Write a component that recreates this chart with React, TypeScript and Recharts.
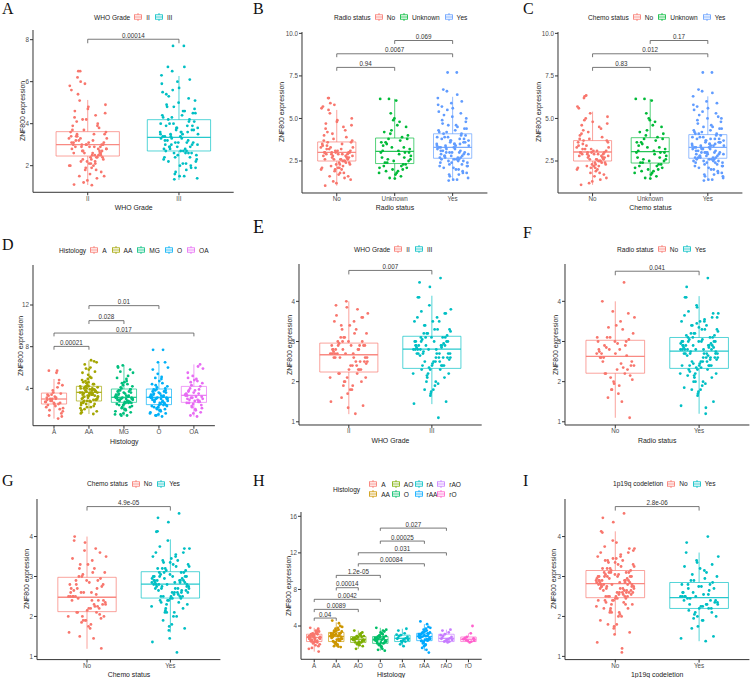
import React from 'react';
import { ComposedChart, XAxis, YAxis, Scatter, ReferenceArea, ReferenceLine } from 'recharts';

// ---------- colours (ggplot hue palettes) ----------
const hue2 = ['#F8766D', '#00BFC4'];
const hue3 = ['#F8766D', '#00BA38', '#619CFF'];
const hue5 = ['#F8766D', '#A3A500', '#00BF7D', '#00B0F6', '#E76BF3'];
const hue8 = ['#F8766D', '#CD9600', '#7CAE00', '#00BE67', '#00BFC4', '#00A9FF', '#C77CFF', '#FF61CC'];

// ---------- Panel A : WHO Grade (cohort 1) ----------
const catsA = ['II', 'III'];
const gradeII_A = [3.1, 2.4, 4.2, 2.8, 1.9, 3.5, 2.6, 3.0, 5.6, 2.2, 3.3, 1.5, 2.9, 4.6, 2.5, 3.7, 2.0, 3.2, 6.5, 2.7, 1.3, 3.9, 2.4, 3.0, 4.9, 2.1, 3.4, 2.6, 1.8, 3.6, 2.9, 5.1, 2.3, 3.1, 1.1, 4.0, 2.7, 3.3, 2.5, 6.2, 1.7, 3.0, 2.8, 4.4, 2.2, 3.5, 1.6, 2.9, 3.8, 2.6, 5.8, 2.0, 3.2, 2.4, 4.7, 3.0, 1.4, 2.7, 3.6, 2.3, 4.1, 2.9, 1.9, 3.4, 2.5, 6.5, 3.1, 2.1, 4.3, 2.8, 1.2, 3.3, 2.6, 5.4, 3.0, 2.2, 3.7, 1.8, 2.9, 4.5, 2.4, 3.2, 2.7, 5.9, 2.0, 3.5, 1.5, 3.0, 4.8, 2.6, 3.9, 2.3, 2.8, 1.07, 3.4, 2.5, 4.2, 3.1, 2.1, 6.0];
const gradeIII_A = [3.4, 2.6, 4.8, 3.0, 2.1, 4.2, 3.7, 2.9, 5.5, 1.8, 3.3, 4.5, 2.7, 3.9, 6.1, 2.4, 3.5, 1.5, 4.0, 3.1, 5.0, 2.8, 3.6, 7.7, 2.3, 4.4, 3.2, 1.9, 3.8, 5.9, 2.6, 3.4, 4.7, 2.0, 3.0, 4.1, 1.35, 3.5, 2.7, 5.3, 3.9, 2.5, 4.3, 3.1, 6.5, 2.2, 3.6, 4.9, 2.9, 1.7, 3.3, 4.6, 2.8, 3.7, 5.7, 2.4, 3.2, 4.0, 1.4, 3.5, 6.7, 2.6, 3.8, 4.4, 2.1, 3.0, 5.1, 3.4, 2.7, 4.2, 1.6, 3.6, 7.7, 2.9, 4.5, 3.1, 2.3, 3.9, 5.6, 2.5, 3.3, 4.8, 2.0, 3.7, 6.3, 2.8, 3.5, 4.1, 1.5, 3.2, 5.2, 2.6, 3.8, 4.6, 2.2, 3.0, 6.0, 3.4, 2.7, 4.3, 1.9, 3.6, 5.4, 2.4, 3.1, 4.0, 6.7, 2.9];
const boxII_A = [1.08, 2.46, 3.0, 3.62, 5.13];
const boxIII_A = [1.32, 2.7, 3.35, 4.19, 6.27];
const ticksA = [2, 4, 6, 8];

// ---------- Panel B : Radio status (cohort 1) ----------
const catsB = ['No', 'Unknown', 'Yes'];
const radioNo_B = [3.0, 2.5, 4.1, 2.8, 1.8, 3.6, 2.6, 3.1, 5.7, 2.2, 3.3, 1.4, 2.9, 4.7, 2.4, 3.8, 2.0, 3.2, 6.2, 2.7, 1.2, 4.0, 2.5, 3.0, 5.0, 2.1, 3.4, 2.7, 1.9, 3.5, 2.9, 5.3, 2.3, 3.1, 1.05, 4.3, 2.8, 3.3, 2.6, 6.2, 1.6, 3.0, 2.8, 4.5, 2.2, 3.6, 1.7, 2.9, 3.9, 2.6, 5.6, 2.0, 3.2, 2.4, 4.8, 3.0, 1.5, 2.7, 3.7, 2.3, 4.2, 2.9, 2.0, 3.4, 2.5, 5.9, 3.1, 2.1, 4.4, 2.8, 1.3, 3.3, 2.6, 5.5, 3.0, 2.3, 3.7, 1.8, 2.9, 4.6, 2.4, 3.2, 2.7, 5.8, 2.1, 3.5, 1.6, 3.0, 4.9, 2.6];
const radioUnknown_B = [3.1, 2.0, 4.1, 2.6, 1.9, 3.6, 2.3, 4.9, 3.0, 1.6, 3.8, 2.5, 6.05, 2.2, 3.3, 4.3, 1.8, 2.9, 3.5, 2.1, 5.0, 2.7, 3.9, 1.5, 3.2, 4.6, 2.4, 3.0, 2.0, 6.15, 3.7, 2.6, 4.0, 1.7, 3.4, 2.3, 5.3, 2.8, 3.1, 1.9, 4.5, 2.5, 3.6, 2.2, 6.15, 3.0, 1.8, 4.2, 2.7, 3.3, 2.1, 4.8, 2.4, 3.8, 1.47];
const radioYes_B = [3.3, 2.7, 4.6, 2.9, 2.0, 4.1, 3.6, 2.8, 5.4, 1.7, 3.2, 4.4, 2.6, 3.8, 6.0, 2.3, 3.4, 1.4, 3.9, 3.0, 5.1, 2.7, 3.5, 7.7, 2.2, 4.3, 3.1, 1.8, 3.7, 5.8, 2.5, 3.3, 4.8, 2.1, 2.9, 4.0, 1.35, 3.4, 2.6, 5.2, 3.8, 2.4, 4.2, 3.0, 6.6, 2.2, 3.5, 4.9, 2.8, 1.6, 3.2, 4.5, 2.7, 3.6, 5.6, 2.4, 3.1, 3.9, 1.5, 3.4, 6.7, 2.5, 3.7, 4.3, 2.0, 3.0, 5.0, 3.3, 2.6, 4.1, 1.7, 3.5, 7.7, 2.8, 4.4, 3.0, 2.2, 3.8, 5.5, 2.4, 3.2, 4.7, 1.9, 3.6, 6.2, 2.7, 3.4, 4.0, 1.4, 3.1, 5.3, 2.5, 3.7, 4.6, 2.1, 2.9, 5.9, 3.3, 2.6, 4.2, 1.8, 3.5, 5.7, 2.3, 3.0, 3.9, 6.4, 2.8];
const boxNo_B = [1.05, 2.5, 3.01, 3.62, 5.5];
const boxUnknown_B = [1.47, 2.35, 3.07, 3.85, 6.15];
const boxYes_B = [1.4, 2.66, 3.3, 4.1, 6.27];
const ticksBC = [2.5, 5, 7.5, 10];

// ---------- Panel C : Chemo status (cohort 1) ----------
const catsC = ['No', 'Unknown', 'Yes'];
const chemoNo_C = [3.0, 2.5, 4.2, 2.8, 1.9, 3.7, 2.6, 3.2, 5.6, 2.2, 3.4, 1.5, 2.9, 4.6, 2.4, 3.8, 2.0, 3.1, 6.3, 2.7, 1.3, 4.0, 2.5, 3.0, 5.1, 2.1, 3.5, 2.7, 1.8, 3.6, 2.9, 5.0, 2.3, 3.1, 1.1, 4.4, 2.8, 3.3, 2.6, 6.2, 1.7, 3.0, 2.8, 4.5, 2.2, 3.7, 1.6, 2.9, 3.9, 2.6, 5.7, 2.0, 3.2, 2.4, 4.8, 3.0, 1.4, 2.7, 3.6, 2.3, 4.3, 2.9, 2.1, 3.4, 2.5, 6.35, 3.1, 2.2, 4.1, 2.8, 1.2, 3.3, 2.6, 4.9, 3.0, 2.3, 3.8, 1.8, 2.9, 4.7, 2.4, 3.2, 2.7, 5.3, 2.1];
const chemoUnknown_C = [3.1, 2.0, 4.0, 2.6, 1.9, 3.6, 2.3, 5.0, 3.0, 1.6, 3.8, 2.5, 6.05, 2.2, 3.3, 4.3, 1.8, 2.9, 3.5, 2.1, 4.9, 2.7, 3.9, 1.5, 3.2, 4.6, 2.4, 3.0, 2.0, 6.15, 3.7, 2.6, 4.1, 1.7, 3.4, 2.3, 5.3, 2.8, 3.1, 1.9, 4.5, 2.5, 3.6, 2.2, 6.15, 3.0, 1.8, 4.2, 2.7, 3.3, 2.1, 4.8, 2.4, 3.8, 1.47];
const chemoYes_C = [3.3, 2.7, 4.5, 2.9, 2.0, 4.1, 3.6, 2.8, 5.5, 1.7, 3.2, 4.4, 2.6, 3.8, 5.9, 2.3, 3.4, 1.4, 3.9, 3.0, 5.0, 2.7, 3.5, 7.7, 2.2, 4.3, 3.1, 1.8, 3.7, 5.8, 2.5, 3.3, 4.8, 2.1, 2.9, 4.0, 1.35, 3.4, 2.6, 5.2, 3.8, 2.4, 4.2, 3.0, 6.6, 2.2, 3.5, 4.9, 2.8, 1.6, 3.2, 4.5, 2.7, 3.6, 5.6, 2.4, 3.1, 3.9, 1.5, 3.4, 6.7, 2.5, 3.7, 4.3, 2.0, 3.0, 5.0, 3.3, 2.6, 4.1, 1.7, 3.5, 7.7, 2.8, 4.4, 3.0, 2.2, 3.8, 5.4, 2.4, 3.2, 4.7, 1.9, 3.6, 6.3, 2.7, 3.4, 4.0, 1.4, 3.1, 5.3, 2.5, 3.7, 4.6, 2.1, 2.9, 6.0, 3.3, 2.6, 4.2, 1.8, 3.5, 5.7, 2.3, 3.0, 3.9, 6.5, 2.8, 3.6, 2.9, 4.1, 2.4, 3.2, 1.6, 3.8, 2.7, 5.1, 3.0, 2.5, 3.4];
const boxNo_C = [1.1, 2.5, 3.03, 3.7, 5.4];
const boxUnknown_C = [1.5, 2.38, 3.05, 3.87, 6.15];
const boxYes_C = [1.38, 2.66, 3.3, 4.05, 6.3];

// ---------- Panel D : Histology (cohort 1) ----------
const catsD = ['A', 'AA', 'MG', 'O', 'OA'];
const histA_D = [2.9, 2.5, 3.4, 1.8, 3.0, 5.7, 2.6, 3.6, 2.2, 4.1, 2.8, 1.3, 3.2, 2.4, 4.8, 3.0, 2.7, 5.5, 1.9, 3.5, 2.6, 3.1, 1.1, 2.9, 4.3, 2.3, 3.3, 2.0, 3.8, 2.7, 5.7, 3.0, 1.6, 2.5, 3.4, 4.5, 2.8, 2.1, 3.1, 1.4];
const histAA_D = [3.6, 2.9, 4.5, 3.2, 2.2, 4.0, 3.8, 5.3, 2.6, 3.5, 4.7, 1.8, 3.9, 3.1, 6.6, 2.8, 4.2, 3.4, 2.0, 3.7, 5.8, 3.0, 4.4, 2.5, 3.6, 6.0, 2.7, 3.3, 4.9, 1.6, 3.8, 4.1, 2.9, 3.5, 5.5, 2.3, 4.0, 3.2, 6.7, 2.8, 3.7, 4.6, 1.9, 3.4, 4.2, 3.0, 5.1, 2.6, 3.9, 4.3, 2.1, 3.6, 6.3, 2.9, 3.3, 4.8, 1.54, 3.7, 4.1, 2.7, 3.5, 5.6, 3.1, 2.4, 4.0, 3.8, 6.5, 2.8, 3.4, 4.4, 2.2, 3.6, 5.0, 3.2, 2.9, 4.2, 1.7, 3.9, 5.9, 3.0, 3.6, 4.6, 2.5, 3.3, 4.0];
const histMG_D = [3.1, 2.6, 4.0, 2.9, 1.9, 3.5, 5.8, 2.4, 3.3, 4.4, 1.5, 3.0, 2.7, 6.1, 3.7, 2.2, 3.2, 4.9, 2.8, 1.7, 3.6, 2.5, 5.2, 3.0, 4.2, 2.0, 3.4, 2.7, 6.2, 3.1, 1.4, 3.8, 2.6, 4.6, 2.9, 3.3, 2.1, 5.5, 3.0, 2.4, 3.9, 1.6, 3.2, 2.8, 4.1, 2.3, 3.5, 6.0, 2.7, 3.1, 1.8, 4.7, 2.9, 3.6, 2.5, 5.0, 3.2, 1.38, 3.0, 2.6, 3.8, 2.2, 4.3, 3.4, 2.8, 5.6, 3.1, 2.0, 3.7, 2.7, 4.5, 1.5, 3.3, 2.9, 3.9];
const histO_D = [3.1, 2.4, 3.9, 2.8, 1.8, 3.5, 6.5, 2.2, 3.3, 4.5, 1.4, 3.0, 2.6, 5.8, 3.7, 2.0, 3.2, 4.9, 2.7, 1.6, 3.6, 2.3, 7.7, 3.0, 4.2, 1.9, 3.4, 2.5, 5.4, 3.1, 1.3, 3.8, 2.4, 4.7, 2.9, 3.3, 2.1, 6.0, 3.0, 2.2, 4.0, 1.5, 3.2, 2.8, 4.3, 2.3, 3.5, 7.7, 2.6, 3.1, 1.7, 5.1, 2.9, 3.6, 2.4, 4.4, 3.2, 1.4, 3.0, 2.5, 3.9, 2.0, 6.5, 3.4, 2.7, 5.0, 3.1, 1.9, 3.7, 2.6, 4.1, 1.6, 3.3, 2.8, 3.8];
const histOA_D = [3.3, 2.7, 4.3, 3.0, 1.9, 3.8, 6.3, 2.5, 3.5, 4.7, 1.4, 3.2, 2.8, 5.5, 3.9, 2.2, 3.4, 4.9, 2.9, 1.7, 3.6, 2.6, 6.1, 3.1, 4.5, 2.0, 3.7, 2.7, 5.2, 3.3, 1.3, 4.0, 2.4, 4.8, 3.0, 3.5, 2.3, 5.9, 3.2, 2.6, 4.2, 1.6, 3.4, 2.9, 4.6, 2.1, 3.8, 5.0, 2.8, 3.1];
const boxA_D = [1.1, 2.5, 2.98, 3.55, 4.9];
const boxAA_D = [1.54, 2.79, 3.62, 4.2, 6.66];
const boxMG_D = [1.38, 2.66, 3.14, 3.94, 6.25];
const boxO_D = [1.3, 2.44, 3.14, 3.94, 6.4];
const boxOA_D = [1.3, 2.66, 3.33, 4.19, 6.3];
const ticksD = [4, 8, 12];

// ---------- Panel E : WHO Grade (cohort 2) ----------
const catsE = ['II', 'III'];
const gradeII_E = [2.7, 2.3, 3.1, 2.5, 1.9, 2.9, 3.6, 2.1, 2.8, 3.3, 1.6, 2.6, 2.4, 3.9, 2.9, 2.0, 2.7, 3.5, 2.2, 1.4, 3.0, 2.6, 3.8, 2.8, 3.2, 1.8, 2.7, 2.3, 4.0, 2.9, 1.2, 3.1, 2.5, 3.4, 2.6, 2.8, 2.0, 3.7, 2.7, 2.2, 3.0, 1.7, 2.8, 2.4, 3.3, 2.1, 2.9, 3.65, 2.5, 2.7, 1.5, 3.2, 2.6, 2.9, 2.3, 3.5, 2.8, 1.9, 2.6, 2.4, 3.0, 2.0, 3.85, 2.7, 2.5, 3.4, 2.9, 1.8, 2.8, 2.3, 3.1, 2.1, 2.6, 2.95, 3.6, 1.35, 2.75, 2.2, 3.0, 2.45];
const gradeIII_E = [2.8, 2.4, 3.2, 2.6, 2.0, 3.0, 3.7, 2.3, 2.9, 3.5, 1.8, 2.7, 2.5, 4.1, 3.1, 2.2, 2.8, 3.6, 2.4, 1.5, 3.1, 2.7, 4.58, 2.9, 3.3, 1.9, 2.8, 2.4, 3.9, 3.0, 1.1, 3.2, 2.6, 3.5, 2.7, 2.9, 2.1, 3.8, 2.8, 2.3, 3.1, 1.7, 2.9, 2.5, 3.4, 2.2, 3.0, 4.47, 2.6, 2.8, 1.45, 3.3, 2.7, 3.0, 2.4, 3.6, 2.9, 2.0, 2.7, 2.5, 3.1, 2.1, 4.36, 2.8, 2.6, 3.4, 3.0, 1.8, 2.9, 2.4, 3.2, 2.2, 2.7, 3.05, 3.7, 1.75, 2.85, 2.3, 3.1, 2.55, 3.3, 2.65, 2.95, 2.35, 3.5, 1.95, 2.75, 3.15, 2.45, 4.1, 2.85, 2.15, 3.25, 2.6, 3.75, 2.9, 1.65, 3.0, 2.7, 2.5];
const boxII_E = [1.19, 2.24, 2.67, 2.96, 4.0];
const boxIII_E = [1.44, 2.33, 2.81, 3.13, 4.14];
const ticks1to4 = [1, 2, 3, 4];

// ---------- Panel F : Radio status (cohort 2) ----------
const catsF = ['No', 'Yes'];
const radioNo_F = [2.6, 2.2, 3.1, 2.4, 1.9, 2.9, 3.7, 2.0, 2.8, 3.3, 1.6, 2.5, 2.3, 4.0, 3.0, 1.8, 2.7, 3.5, 2.2, 1.1, 3.0, 2.6, 4.47, 2.8, 3.2, 1.7, 2.6, 2.3, 3.75, 3.0, 1.5, 3.1, 2.4, 3.4, 2.7, 2.9, 2.1, 3.6, 2.8, 2.2, 3.05, 1.95, 2.75, 2.35, 3.35, 2.05, 2.95, 2.5, 2.65, 1.8, 3.1, 2.45, 2.85, 2.15, 2.7];
const radioYes_F = [2.8, 2.4, 3.2, 2.6, 2.0, 3.0, 3.6, 2.3, 2.9, 3.4, 1.8, 2.7, 2.5, 4.1, 3.1, 2.2, 2.8, 3.5, 2.4, 1.5, 3.0, 2.7, 4.58, 2.9, 3.3, 1.9, 2.8, 2.4, 3.9, 3.0, 1.2, 3.2, 2.6, 3.5, 2.7, 2.9, 2.1, 3.7, 2.8, 2.3, 3.1, 1.7, 2.9, 2.5, 3.4, 2.2, 3.0, 4.36, 2.6, 2.8, 1.4, 3.3, 2.7, 3.0, 2.4, 3.65, 2.9, 2.0, 2.7, 2.5, 3.1, 2.1, 3.85, 2.8, 2.6, 3.4, 3.0, 1.8, 2.9, 2.4, 3.2, 2.2, 2.7, 3.05, 3.7, 1.75, 2.85, 2.3, 3.1, 2.55, 3.3, 2.65, 2.95, 2.35, 3.5, 1.95, 2.75, 3.15, 2.45, 4.1, 2.85, 2.15, 3.25, 2.6, 3.75, 2.9, 1.65, 3.0, 2.7, 2.5, 2.75, 2.35, 3.15, 2.55, 2.0, 2.95, 3.55, 2.25, 2.85, 3.35, 1.85, 2.65, 2.45, 3.6, 3.05, 2.15, 2.8, 3.45, 2.4, 1.35];
const boxNo_F = [1.1, 2.21, 2.63, 3.03, 4.0];
const boxYes_F = [1.2, 2.33, 2.76, 3.1, 4.13];

// ---------- Panel G : Chemo status (cohort 2) ----------
const catsG = ['No', 'Yes'];
const chemoNo_G = [2.5, 2.1, 3.0, 2.3, 1.8, 2.8, 3.6, 1.9, 2.6, 3.2, 1.5, 2.4, 2.2, 3.9, 2.9, 1.9, 2.5, 3.4, 2.1, 1.2, 2.9, 2.4, 3.7, 2.6, 3.1, 1.7, 2.5, 2.2, 3.65, 2.8, 1.45, 3.0, 2.3, 3.3, 2.5, 2.7, 2.0, 3.5, 2.6, 2.1, 2.95, 1.9, 2.7, 2.25, 3.3, 2.0, 2.85, 4.0, 2.4, 2.6, 1.6, 3.1, 2.45, 2.75, 2.15, 3.45, 2.55, 1.85, 2.35, 2.2, 2.9, 2.05, 3.85, 2.5, 2.3, 3.2, 2.8, 1.75, 2.65, 2.25, 3.05, 2.0, 2.4, 2.7, 1.95];
const chemoYes_G = [2.8, 2.5, 3.2, 2.7, 2.1, 3.0, 3.6, 2.4, 2.9, 3.4, 1.9, 2.75, 2.6, 4.13, 3.1, 2.3, 2.85, 3.5, 2.5, 1.7, 3.05, 2.7, 4.58, 2.95, 3.3, 2.0, 2.8, 2.5, 3.9, 3.0, 1.1, 3.2, 2.65, 3.45, 2.75, 2.9, 2.2, 3.7, 2.85, 2.4, 3.1, 1.75, 2.9, 2.55, 3.35, 2.3, 3.0, 4.47, 2.65, 2.8, 1.36, 3.25, 2.7, 3.0, 2.45, 3.6, 2.9, 2.1, 2.75, 2.55, 3.1, 2.2, 4.36, 2.8, 2.6, 3.4, 3.0, 1.8, 2.9, 2.45, 3.15, 2.25, 2.7, 3.05, 3.7, 1.45, 2.85, 2.35, 3.1, 2.6, 3.3, 2.65, 2.95, 2.4, 3.5, 2.0, 2.75, 3.15, 2.5, 4.12, 2.85, 2.15, 3.25, 2.6, 3.75, 2.9, 1.65, 3.0, 2.7, 2.5, 2.8, 2.45, 3.2, 2.6, 2.1, 2.95, 3.55, 2.35, 2.85, 3.35];
const boxNo_G = [1.19, 2.12, 2.48, 2.98, 4.0];
const boxYes_G = [1.6, 2.46, 2.81, 3.12, 3.93];

// ---------- Panel H : Histology (cohort 2) ----------
const catsH = ['A', 'AA', 'AO', 'O', 'rA', 'rAA', 'rAO', 'rO'];
const histA_H = [2.8, 2.4, 3.2, 2.6, 1.9, 3.0, 3.7, 2.2, 2.9, 3.4, 1.6, 2.7, 2.5, 3.8, 3.1, 2.1, 2.8, 3.5, 2.3, 1.2, 3.0, 2.6, 3.3, 2.9, 2.0, 2.7, 2.4, 3.6, 3.1, 1.5, 3.2, 2.5, 3.4, 2.7, 2.9, 2.2, 3.0, 2.8, 2.3, 3.1, 1.8, 2.9, 2.6, 3.3, 2.4];
const histAA_H = [2.9, 2.4, 3.4, 2.6, 2.0, 3.1, 4.0, 2.2, 3.0, 3.6, 1.8, 2.8, 2.5, 4.6, 3.2, 2.1, 2.9, 3.8, 2.3, 1.7, 3.1, 2.7, 4.3, 3.0, 3.4, 1.9, 2.8, 2.4, 3.7, 3.2, 1.75, 3.3, 2.6, 3.5, 2.8, 3.0, 2.2, 3.9, 2.9, 2.35, 3.2, 2.0, 3.0, 2.6, 3.5];
const histAO_H = [2.6, 2.2, 2.9, 2.4, 1.9, 2.7, 3.3, 2.1, 2.6, 3.0, 1.5, 2.5, 2.3, 3.5, 2.8, 2.0, 2.55, 3.1, 2.2, 1.8, 2.75, 2.45, 3.2, 2.6, 2.9, 2.1, 2.5, 2.35, 2.85, 2.65];
const histO_H = [2.5, 2.1, 2.9, 2.3, 1.7, 2.7, 3.4, 2.0, 2.6, 3.1, 1.4, 2.4, 2.2, 3.8, 2.8, 1.9, 2.5, 3.2, 2.1, 1.3, 2.75, 2.4, 3.5, 2.6, 2.9, 1.8, 2.45, 2.15, 3.0, 2.7, 1.5, 2.85, 2.3, 3.3, 2.55, 2.65, 2.0, 3.6, 2.5, 2.25];
const histrA_H = [2.7, 2.3, 3.0, 2.5, 1.8, 2.9, 3.7, 2.2, 2.6, 3.2, 2.0, 2.8, 2.4, 3.5, 2.65, 2.35, 3.05, 2.55];
const histrAA_H = [2.9, 2.4, 3.3, 2.6, 2.0, 3.1, 3.9, 2.3, 2.8, 3.5, 1.6, 2.7, 2.5, 4.5, 3.2, 2.2, 2.9, 3.7, 2.4, 1.1, 3.0, 2.7, 4.2, 2.85, 3.3, 1.9, 2.75, 2.45, 3.6, 3.1, 1.4, 3.2, 2.6, 3.4, 2.8, 2.95, 2.1, 3.8, 2.9, 2.35, 3.15, 1.8, 2.85, 2.55, 3.25];
const histrAO_H = [2.7, 2.3, 3.1, 2.5, 2.2, 2.9, 3.6, 2.4, 2.6, 3.3, 2.3, 2.8, 2.5, 3.5, 2.65, 2.35, 3.0, 2.55];
const histrO_H = [2.6, 2.3, 2.8, 2.4, 2.2, 2.7, 4.0, 2.35, 2.55, 3.2, 2.45, 2.65];
const boxA_H = [1.2, 2.3, 2.75, 3.1, 3.8];
const boxAA_H = [1.7, 2.3, 2.85, 3.3, 4.4];
const boxAO_H = [1.5, 2.2, 2.55, 2.85, 3.5];
const boxO_H = [1.3, 2.1, 2.5, 2.85, 3.8];
const boxrA_H = [1.8, 2.3, 2.65, 3.0, 3.7];
const boxrAA_H = [1.3, 2.4, 2.85, 3.2, 4.2];
const boxrAO_H = [2.2, 2.3, 2.65, 3.1, 3.6];
const boxrO_H = [2.2, 2.3, 2.55, 2.8, 3.2];
const ticksH = [4, 8, 12, 16];

// ---------- Panel I : 1p19q codeletion (cohort 2) ----------
const catsI = ['No', 'Yes'];
const codelNo_I = [2.8, 2.5, 3.2, 2.7, 2.1, 3.0, 3.6, 2.4, 2.9, 3.4, 1.8, 2.75, 2.6, 4.1, 3.1, 2.3, 2.85, 3.5, 2.5, 1.6, 3.05, 2.7, 4.58, 2.95, 3.3, 2.0, 2.8, 2.5, 3.9, 3.0, 1.1, 3.2, 2.65, 3.45, 2.75, 2.9, 2.2, 3.7, 2.85, 2.4, 3.1, 1.75, 2.9, 2.55, 3.35, 2.3, 3.0, 4.47, 2.65, 2.8, 1.35, 3.25, 2.7, 3.0, 2.45, 3.6, 2.9, 2.1, 2.75, 2.55, 3.1, 2.2, 4.36, 2.8, 2.6, 3.4, 3.0, 1.8, 2.9, 2.45, 3.15, 2.25, 2.7, 3.05, 3.7, 1.55, 2.85, 2.35, 3.1, 2.6, 3.3, 2.65, 2.95, 2.4, 3.5, 2.0, 2.75, 3.15, 2.5, 4.13, 2.85, 2.15, 3.25, 2.6, 3.75, 2.9, 1.7, 3.0, 2.7, 2.5, 2.8, 2.45, 3.2, 2.6, 2.1, 2.95, 3.55, 2.35, 2.85, 3.35, 1.9, 2.65, 2.5, 3.65, 3.05, 2.2, 2.8, 3.45, 2.4, 1.2, 3.0, 2.55, 3.85, 2.75, 2.3, 3.1, 2.9, 2.05, 3.4, 2.6];
const codelYes_I = [2.5, 2.2, 2.9, 2.3, 1.9, 2.7, 3.3, 2.0, 2.6, 3.1, 1.7, 2.4, 2.25, 3.6, 2.8, 2.1, 2.5, 3.15, 2.3, 1.5, 2.75, 2.4, 4.0, 2.6, 3.0, 1.9, 2.45, 2.2, 3.4, 2.8, 1.38, 2.9, 2.35, 3.2, 2.5, 2.65, 2.05, 3.5, 2.55, 2.15, 2.85, 1.75, 2.6, 2.3, 3.05, 2.0, 2.75, 3.85, 2.4, 2.5, 1.45, 2.95, 2.45, 2.7, 2.2, 3.25, 2.55, 1.95, 2.35, 2.25, 2.8, 2.1, 3.35, 2.5, 2.3];
const boxNo_I = [1.55, 2.47, 2.82, 3.15, 4.13];
const boxYes_I = [1.38, 2.2, 2.47, 2.85, 3.6];

// ---------- significance brackets: [fromIdx, toIdx, y, label] ----------
const brA: [number, number, number, string][] = [[1, 2, 8.02, '0.00014']];
const brB: [number, number, number, string][] = [[1, 2, 8.0, '0.94'], [1, 3, 8.8, '0.0067'], [2, 3, 9.58, '0.069']];
const brC: [number, number, number, string][] = [[1, 2, 8.0, '0.83'], [1, 3, 8.8, '0.012'], [2, 3, 9.58, '0.17']];
const brD: [number, number, number, string][] = [[1, 2, 8.03, '0.00021'], [1, 5, 9.31, '0.017'], [2, 3, 10.5, '0.028'], [2, 4, 11.94, '0.01']];
const brE: [number, number, number, string][] = [[1, 2, 4.77, '0.007']];
const brF: [number, number, number, string][] = [[1, 2, 4.75, '0.041']];
const brG: [number, number, number, string][] = [[1, 2, 4.75, '4.9e-05']];
const brH: [number, number, number, string][] = [
  [1, 2, 4.87, '0.04'], [1, 3, 5.82, '0.0089'], [1, 4, 6.92, '0.0042'], [2, 3, 8.19, '0.00014'],
  [2, 4, 9.54, '1.2e-05'], [3, 6, 10.81, '0.00084'], [3, 7, 12.01, '0.031'], [4, 6, 13.29, '0.00025'], [4, 7, 14.71, '0.027'],
];
const brI: [number, number, number, string][] = [[1, 2, 4.75, '2.8e-06']];

// ---------- layout ----------
type Group = { name: string; color: string; values: number[]; box: number[] };
type Panel = {
  letter: string; letterX: number; letterTop: number; letterSize: number;
  legendTitle: string; legendX: number; legendY: number; legendGrid?: boolean;
  xTitle: string; yTitleX: number;
  left: number; right: number; top: number; bottom: number;
  domain: [number, number]; ticks: number[]; decimals?: number;
  groups: Group[];
  boxHalf: number; jitter: number; drop: number;
  brackets: [number, number, number, string][];
};

const mk = (names: string[], colors: string[], vals: number[][], boxes: number[][]): Group[] =>
  names.map((n, i) => ({ name: n, color: colors[i], values: vals[i], box: boxes[i] }));

const panels: Panel[] = [
  {
    letter: 'A', letterX: 2, letterTop: 3.3, letterSize: 16, legendTitle: 'WHO Grade', legendX: 94, legendY: 17,
    xTitle: 'WHO Grade', yTitleX: 21.7, left: 33.3, right: 234, top: 30, bottom: 192.3, domain: [0.733, 8.46], ticks: ticksA,
    groups: mk(catsA, hue2, [gradeII_A, gradeIII_A], [boxII_A, boxIII_A]), boxHalf: 0.347, jitter: 0.21, drop: 0.19, brackets: brA,
  },
  {
    letter: 'B', letterX: 253, letterTop: 3.3, letterSize: 16, legendTitle: 'Radio status', legendX: 334, legendY: 17,
    xTitle: 'Radio status', yTitleX: 280.7, left: 302.3, right: 487.7, top: 31.7, bottom: 192.7, domain: [0.62, 10.08], ticks: ticksBC, decimals: 1,
    groups: mk(catsB, hue3, [radioNo_B, radioUnknown_B, radioYes_B], [boxNo_B, boxUnknown_B, boxYes_B]), boxHalf: 0.33, jitter: 0.28, drop: 0.2, brackets: brB,
  },
  {
    letter: 'C', letterX: 523, letterTop: 3.3, letterSize: 16, legendTitle: 'Chemo status', legendX: 588, legendY: 17,
    xTitle: 'Chemo status', yTitleX: 537.5, left: 558.3, right: 742.7, top: 31.7, bottom: 192.7, domain: [0.62, 10.08], ticks: ticksBC, decimals: 1,
    groups: mk(catsC, hue3, [chemoNo_C, chemoUnknown_C, chemoYes_C], [boxNo_C, boxUnknown_C, boxYes_C]), boxHalf: 0.33, jitter: 0.28, drop: 0.2, brackets: brC,
  },
  {
    letter: 'D', letterX: 2, letterTop: 239.3, letterSize: 16, legendTitle: 'Histology', legendX: 59, legendY: 250,
    xTitle: 'Histology', yTitleX: 20, left: 33.3, right: 215.2, top: 265.3, bottom: 426, domain: [0.42, 15.84], ticks: ticksD,
    groups: mk(catsD, hue5, [histA_D, histAA_D, histMG_D, histO_D, histOA_D], [boxA_D, boxAA_D, boxMG_D, boxO_D, boxOA_D]), boxHalf: 0.36, jitter: 0.26, drop: 0.32, brackets: brD,
  },
  {
    letter: 'E', letterX: 253, letterTop: 220.5, letterSize: 18, legendTitle: 'WHO Grade', legendX: 354, legendY: 249,
    xTitle: 'WHO Grade', yTitleX: 289, left: 299, right: 481.7, top: 264.3, bottom: 425.3, domain: [0.92, 4.93], ticks: ticks1to4,
    groups: mk(catsE, hue2, [gradeII_E, gradeIII_E], [boxII_E, boxIII_E]), boxHalf: 0.35, jitter: 0.23, drop: 0.1, brackets: brE,
  },
  {
    letter: 'F', letterX: 523, letterTop: 228, letterSize: 16, legendTitle: 'Radio status', legendX: 617, legendY: 249,
    xTitle: 'Radio status', yTitleX: 555, left: 565, right: 749.4, top: 264.3, bottom: 425.3, domain: [0.92, 4.93], ticks: ticks1to4,
    groups: mk(catsF, hue2, [radioNo_F, radioYes_F], [boxNo_F, boxYes_F]), boxHalf: 0.35, jitter: 0.23, drop: 0.1, brackets: brF,
  },
  {
    letter: 'G', letterX: 2, letterTop: 475.5, letterSize: 16, legendTitle: 'Chemo status', legendX: 87, legendY: 483.7,
    xTitle: 'Chemo status', yTitleX: 26, left: 37.3, right: 220.7, top: 498.7, bottom: 659.3, domain: [0.92, 4.94], ticks: ticks1to4,
    groups: mk(catsG, hue2, [chemoNo_G, chemoYes_G], [boxNo_G, boxYes_G]), boxHalf: 0.35, jitter: 0.23, drop: 0.1, brackets: brG,
  },
  {
    letter: 'H', letterX: 253, letterTop: 475.5, letterSize: 16, legendTitle: 'Histology', legendX: 333, legendY: 489, legendGrid: true,
    xTitle: 'Histology', yTitleX: 287.7, left: 300.7, right: 481.4, top: 512, bottom: 659.3, domain: [0.36, 16.47], ticks: ticksH,
    groups: mk(catsH, hue8, [histA_H, histAA_H, histAO_H, histO_H, histrA_H, histrAA_H, histrAO_H, histrO_H],
      [boxA_H, boxAA_H, boxAO_H, boxO_H, boxrA_H, boxrAA_H, boxrAO_H, boxrO_H]), boxHalf: 0.35, jitter: 0.27, drop: 0.3, brackets: brH,
  },
  {
    letter: 'I', letterX: 523, letterTop: 476, letterSize: 16, legendTitle: '1p19q codeletion', legendX: 613, legendY: 483.7,
    xTitle: '1p19q codeletion', yTitleX: 552.7, left: 565, right: 749.4, top: 498.7, bottom: 659.3, domain: [0.92, 4.94], ticks: ticks1to4,
    groups: mk(catsI, hue2, [codelNo_I, codelYes_I], [boxNo_I, boxYes_I]), boxHalf: 0.35, jitter: 0.23, drop: 0.1, brackets: brI,
  },
];

const FONT = '"Liberation Sans", Arial, Helvetica, sans-serif';
const jit = (i: number) => ((i * 0.6180339887 + 0.13) % 1) - 0.5;

function KeyGlyph({ color }: { color: string }) {
  return (
    <svg width={8} height={8} style={{ display: 'block', flexShrink: 0 }}>
      <line x1={4} y1={0} x2={4} y2={8} stroke={color} strokeWidth={0.8} />
      <rect x={0.5} y={1.8} width={7} height={4.4} fill="white" stroke={color} strokeWidth={0.8} />
      <line x1={0.5} y1={4} x2={7.5} y2={4} stroke={color} strokeWidth={0.8} />
    </svg>
  );
}

function LegendBlock({ p }: { p: Panel }) {
  const item = (g: Group) => (
    <span key={g.name} style={{ display: 'inline-flex', alignItems: 'center', marginRight: 5, whiteSpace: 'nowrap' }}>
      <KeyGlyph color={g.color} />
      <span style={{ marginLeft: 4 }}>{g.name}</span>
    </span>
  );
  if (p.legendGrid) {
    return (
      <div style={{ position: 'absolute', left: p.legendX, top: p.legendY, transform: 'translateY(-50%)', display: 'flex', alignItems: 'center', fontSize: 6.6, color: '#222', whiteSpace: 'nowrap' }}>
        <span style={{ marginRight: 9 }}>{p.legendTitle}</span>
        <div style={{ display: 'grid', gridTemplateRows: '10px 10px', gridAutoFlow: 'column', gridAutoColumns: '22.7px', alignItems: 'center' }}>
          {p.groups.map(item)}
        </div>
      </div>
    );
  }
  return (
    <div style={{ position: 'absolute', left: p.legendX, top: p.legendY, transform: 'translateY(-50%)', display: 'flex', alignItems: 'center', fontSize: 6.6, color: '#222', whiteSpace: 'nowrap' }}>
      <span style={{ marginRight: 4 }}>{p.legendTitle}</span>
      {p.groups.map(item)}
    </div>
  );
}

function PanelChart({ p }: { p: Panel }) {
  const n = p.groups.length;
  const w = p.right - p.left + 42;
  const h = p.bottom - p.top + 30;
  const idx = p.groups.map((_, i) => i + 1);
  const pts = p.groups.map((g, gi) => g.values.map((v, i) => ({ x: gi + 1 + jit(i) * 2 * p.jitter, y: v })));
  const tickStyle = { fontSize: 6.3, fill: '#4d4d4d' };
  return (
    <>
      <div style={{ position: 'absolute', left: p.letterX, top: p.letterTop - 2.8, fontFamily: '"Liberation Serif", "Times New Roman", serif', fontSize: p.letterSize, lineHeight: `${p.letterSize}px`, color: '#111' }}>
        {p.letter}
      </div>
      <LegendBlock p={p} />
      <div style={{ position: 'absolute', left: p.left - 40, top: p.top - 10, width: w, height: h }}>
        <ComposedChart width={w} height={h} margin={{ top: 10, right: 2, left: 10, bottom: 0 }}>
          <XAxis
            type="number" dataKey="x" domain={[0.4, n + 0.6]} ticks={idx} interval={0} allowDataOverflow
            tickFormatter={(v: number) => p.groups[Math.round(v) - 1]?.name ?? ''}
            height={20} tickSize={3} tickMargin={1} stroke="#333" tick={tickStyle}
          />
          <YAxis
            type="number" dataKey="y" domain={p.domain} ticks={p.ticks} allowDataOverflow width={30}
            tickSize={3} tickMargin={1} stroke="#333" tick={tickStyle}
            tickFormatter={(v: number) => (p.decimals ? v.toFixed(p.decimals) : String(v))}
          />
          {p.groups.map((g, gi) => {
            const c = gi + 1;
            const [lo, q1, med, q3, hi] = g.box;
            return [
              <ReferenceArea key={'b' + gi} x1={c - p.boxHalf} x2={c + p.boxHalf} y1={q1} y2={q3} fill="none" fillOpacity={0} stroke={g.color} strokeOpacity={0.75} strokeWidth={0.9} ifOverflow="visible" />,
              <ReferenceLine key={'wl' + gi} segment={[{ x: c, y: lo }, { x: c, y: q1 }]} stroke={g.color} strokeOpacity={0.75} strokeWidth={0.9} ifOverflow="visible" />,
              <ReferenceLine key={'wh' + gi} segment={[{ x: c, y: q3 }, { x: c, y: hi }]} stroke={g.color} strokeOpacity={0.75} strokeWidth={0.9} ifOverflow="visible" />,
            ];
          })}
          {pts.map((data, gi) => (
            <Scatter
              key={'s' + gi} data={data} dataKey="y" fill={p.groups[gi].color} isAnimationActive={false}
              shape={(props: any) => <circle cx={props.cx} cy={props.cy} r={1.4} fill={p.groups[gi].color} />}
            />
          ))}
          {p.groups.map((g, gi) => {
            const c = gi + 1;
            return (
              <ReferenceLine key={'m' + gi} segment={[{ x: c - p.boxHalf, y: g.box[2] }, { x: c + p.boxHalf, y: g.box[2] }]} stroke={g.color} strokeOpacity={0.85} strokeWidth={1.3} ifOverflow="visible" />
            );
          })}
          {p.brackets.map(([a, b, y, label], bi) => [
            <ReferenceLine key={'bh' + bi} segment={[{ x: a, y }, { x: b, y }]} stroke="#555" strokeWidth={0.8} ifOverflow="visible"
              label={{ value: label, position: 'top', fontSize: 6.3, fill: '#333', offset: 1.5 }} />,
            <ReferenceLine key={'bl' + bi} segment={[{ x: a, y }, { x: a, y: y - p.drop }]} stroke="#555" strokeWidth={0.8} ifOverflow="visible" />,
            <ReferenceLine key={'br' + bi} segment={[{ x: b, y }, { x: b, y: y - p.drop }]} stroke="#555" strokeWidth={0.8} ifOverflow="visible" />,
          ])}
        </ComposedChart>
      </div>
      <div style={{ position: 'absolute', left: (p.left + p.right) / 2, top: p.bottom + 14.5, transform: 'translate(-50%, -50%)', fontSize: 6.9, color: '#222', whiteSpace: 'nowrap' }}>
        {p.xTitle}
      </div>
      <div style={{ position: 'absolute', left: p.yTitleX, top: (p.top + p.bottom) / 2, transform: 'translate(-50%, -50%) rotate(-90deg)', fontSize: 6.9, color: '#222', whiteSpace: 'nowrap' }}>
        ZNF800 expression
      </div>
    </>
  );
}

export default function App() {
  return (
    <div style={{ position: 'absolute', left: 0, top: 0, width: 750, height: 678, overflow: 'hidden', background: '#fff', fontFamily: FONT }}>
      {panels.map((p) => (
        <PanelChart key={p.letter} p={p} />
      ))}
    </div>
  );
}
